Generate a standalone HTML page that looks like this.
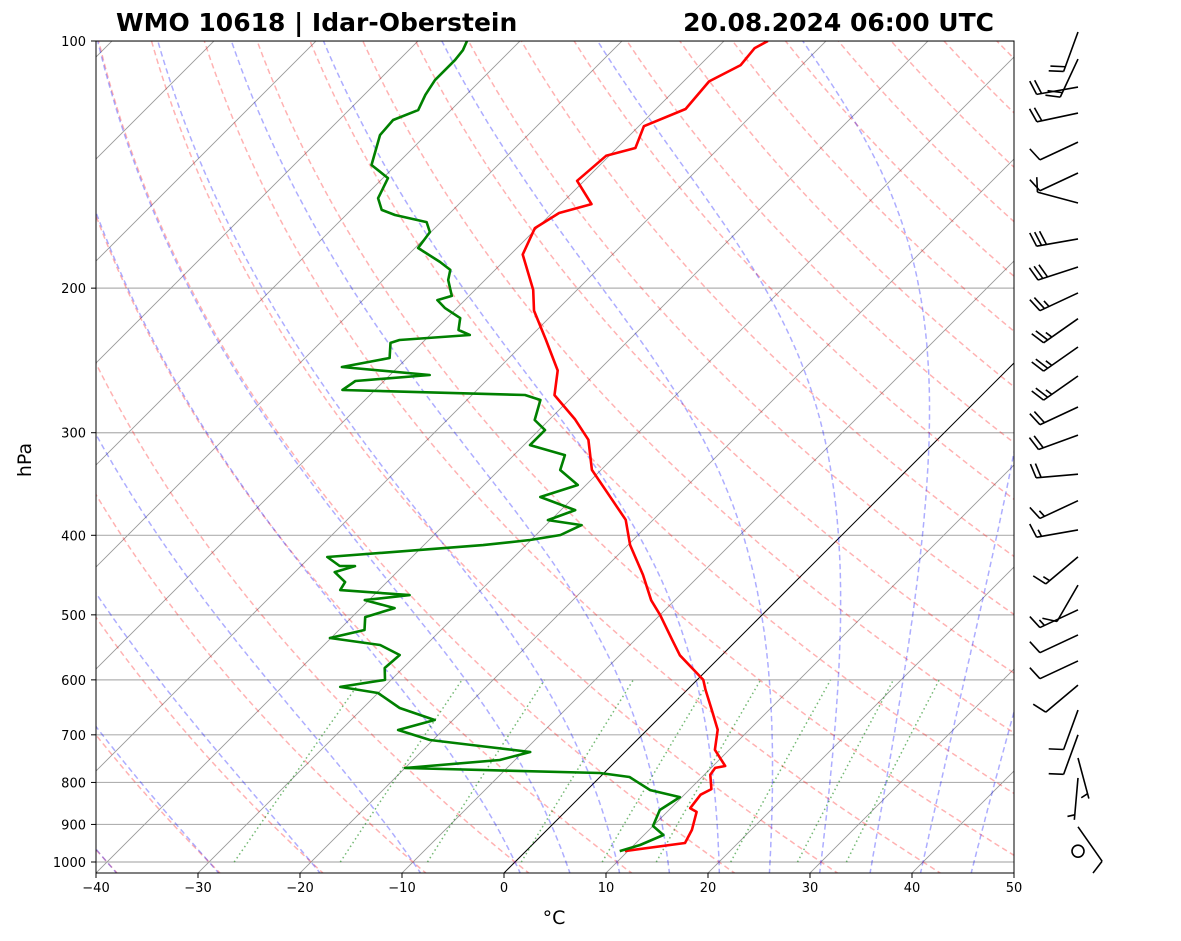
<!DOCTYPE html>
<html><head><meta charset="utf-8"><style>
body{margin:0;background:#fff;}
svg{display:block;font-family:"DejaVu Sans","Liberation Sans",sans-serif;}
</style></head><body>
<svg id="chart" width="1181" height="941" viewBox="0 0 1181 941" xmlns="http://www.w3.org/2000/svg">
<defs><clipPath id="clip"><rect x="96" y="41" width="918" height="832"/></clipPath></defs>
<rect width="1181" height="941" fill="#fff"/>
<g id="bg" clip-path="url(#clip)"></g>
<g id="prof" clip-path="url(#clip)"></g>
<rect x="96" y="41" width="918" height="832" fill="none" stroke="#000" stroke-width="1"/>
<g id="axes"></g>
<g id="barbs"></g>
<text x="116" y="31" font-size="25" font-weight="bold">WMO 10618 | Idar-Oberstein</text>
<text x="994" y="31" font-size="25" font-weight="bold" text-anchor="end">20.08.2024 06:00 UTC</text>
<text x="554" y="924" font-size="19" text-anchor="middle">°C</text>
<text x="31" y="460" font-size="19" text-anchor="middle" transform="rotate(-90 31 460)">hPa</text>
</svg>
<script>
const tempP=[970,948,914,869,860,828,815,783,768,764,730,690,653,617,600,560,537,500,480,447,411,383,362,333,306,289,270,252,231,213,201,182,169,162,158,148,138,135,127,121,112,107,102,100];
const tempT=[9.7,14.8,14.2,12.9,11.9,11.6,12.1,10.6,10.4,11.2,8.6,6.9,4.4,1.8,0.6,-4.1,-6.3,-10,-12.3,-15.6,-19.8,-22.7,-26,-30.9,-34.2,-37.5,-41.9,-44,-48.2,-52.2,-54.3,-58.8,-60.2,-59.3,-57,-60.7,-60.3,-58.2,-59.5,-57.1,-57.5,-56,-56.3,-55.7];
const dewP=[970,953.4,927,903.9,864.3,833.5,817.3,788,779.1,768.3,751.3,734.5,722.3,710.2,690.6,671.4,649.3,622.5,612,600.1,580.3,559.6,544.1,533.6,521.7,503.1,490.6,479.7,473,466.4,456.1,443.5,436.1,436,425.1,411.1,405.3,399.7,388.7,383.3,372.7,359.3,347.4,333.1,319.4,310.6,297.8,289.5,273.7,269.9,266.1,259.5,255.2,249.5,243.3,233.2,231.3,228.1,224.9,217.5,211.4,206.8,204.4,195.5,190,185.8,178.7,170.9,166.2,162.9,160.6,155.4,146.9,141.6,130.2,124.8,121.4,116.3,111.6,108.5,105.5,102.6,100];
const dewT=[9.2,10.6,11.9,10,9.1,9.8,6.2,2.9,-0.4,-20,-11.5,-9.3,-14.8,-20.3,-24.4,-21.8,-26.4,-30,-34.3,-30.6,-31.8,-31.6,-34.5,-40.1,-37.5,-38.7,-36.7,-40.4,-36.5,-43.8,-44.1,-46.1,-44.7,-46.2,-48.3,-34.2,-30.1,-27.6,-26.5,-30.3,-28.6,-33.3,-30.8,-34,-35,-39.4,-39.4,-41.4,-42.8,-44.8,-63.2,-62.8,-56.1,-65.5,-61.7,-63.1,-62.5,-56.1,-57.7,-58.7,-61.2,-62.7,-61.7,-63.6,-64.4,-66.2,-69.7,-70.1,-71.4,-75.2,-77,-78.5,-79.5,-82.4,-84.5,-84.7,-83.2,-84,-84.5,-84.5,-84.5,-84.7,-85.2];
const windP=[97.5,105.2,113.8,122.4,132.8,144.8,157.5,174.2,188.5,202.7,217.9,235.9,255.9,279.1,302,337,363,394,425,460,493,529,569,609,653,700,747,790,906,970];
const windDir=[200,205,260,258,245,245,285,260,252,245,235,235,235,245,250,265,245,260,230,210,245,245,245,230,200,200,165,185,145,0];
const windSpd=[20,20,20,20,10,10,10,30,30,25,25,25,25,20,20,20,15,15,15,10,15,10,10,10,10,10,5,5,10,0];
const xTicks=[-40,-30,-20,-10,0,10,20,30,40,50];
const pTicks=[100,200,300,400,500,600,700,800,900,1000];
const dryT0=[-40,-30,-20,-10,0,10,20,30,40,50,60,70,80,90,100,110,120,130,140,150,160,170,180,190];
const moistT0=[-50,-40,-30,-20,-10,0,5,10,15,20,25,30,35,40,45];
const mixW=[0.0004,0.001,0.002,0.004,0.007,0.01,0.016,0.024,0.032];

const NS='http://www.w3.org/2000/svg';
const X0=96,YB=873,TOP=41,SC=10.2;
function yP(p){return TOP+821*Math.log10(p/100);}
function xT(T,p){const y=yP(p);return X0+(T+40)*SC+(YB-y);}
function mk(tag,attrs,parent){const e=document.createElementNS(NS,tag);for(const k in attrs)e.setAttribute(k,attrs[k]);parent.appendChild(e);return e;}
function pathFrom(ps,ts){let d='';for(let i=0;i<ps.length;i++){d+=(i?'L':'M')+xT(ts[i],ps[i]).toFixed(1)+' '+yP(ps[i]).toFixed(1);}return d;}
const bg=document.getElementById('bg'),prof=document.getElementById('prof'),axes=document.getElementById('axes'),barbs=document.getElementById('barbs');
const PMAX=1035;
const plev=[];for(let p=PMAX;p>=99;p-=5)plev.push(p);
pTicks.forEach(p=>{const l=mk('line',{x1:96,x2:1014,y1:yP(p),y2:yP(p),stroke:'#b0b0b0','stroke-width':1.2},bg);

});
for(let T=-140;T<=50;T+=10){const l=mk('path',{d:pathFrom([PMAX,99],[T,T]),stroke:T===0?'#000':'#999',fill:'none','stroke-width':T===0?1:0.9},bg);

}
dryT0.forEach(t0=>{const th=t0+273.15;const ts=plev.map(p=>th*Math.pow(p/1000,0.2857)-273.15);
const l=mk('path',{d:pathFrom(plev,ts),stroke:'rgba(255,0,0,0.3)',fill:'none','stroke-width':1.5,'stroke-dasharray':'5.5 3.5'},bg);

});
function es(Tc){return 6.112*Math.exp(17.67*Tc/(Tc+243.5));}
function dTdp(T,p){const Rd=287.04,Lv=2.501e6,Cp=1005.7,eps=0.622;const e=es(T-273.15);const rs=eps*e/(p-e);
return (1/p)*(Rd*T+Lv*rs)/(Cp+Lv*Lv*rs*eps/(Rd*T*T));}
function integ(T,p0,p1,n){const h=(p1-p0)/n;const ps=[p0],ts=[T];let p=p0;for(let i=0;i<n;i++){const k1=dTdp(T,p),k2=dTdp(T+h/2*k1,p+h/2),k3=dTdp(T+h/2*k2,p+h/2),k4=dTdp(T+h*k3,p+h);T+=h/6*(k1+2*k2+2*k3+k4);p+=h;ps.push(p);ts.push(T-273.15);}ts[0]-=273.15;return [ps,ts];}
moistT0.forEach(t0=>{const up=integ(t0+273.15,1000,99,200);const dn=integ(t0+273.15,1000,PMAX,10);
const ps=dn[0].slice().reverse().concat(up[0].slice(1));const ts=dn[1].slice().reverse().concat(up[1].slice(1));
const l=mk('path',{d:pathFrom(ps,ts),stroke:'rgba(0,0,255,0.32)',fill:'none','stroke-width':1.5,'stroke-dasharray':'5.5 3.5'},bg);

});
mixW.forEach(w=>{const ps=[1000,900,800,700,600];const ts=ps.map(p=>{const e=p*w/(0.622+w);const a=Math.log(e/6.112);return 243.5*a/(17.67-a);});
const l=mk('path',{d:pathFrom(ps,ts),stroke:'rgba(0,128,0,0.55)',fill:'none','stroke-width':1.5,'stroke-dasharray':'1.5 3'},bg);

});
const tl=mk('path',{d:pathFrom(tempP,tempT),stroke:'#f00',fill:'none','stroke-width':2.6,'stroke-linejoin':'round'},prof);


const dl=mk('path',{d:pathFrom(dewP,dewT),stroke:'#008000',fill:'none','stroke-width':2.6,'stroke-linejoin':'round'},prof);


xTicks.forEach(T=>{const x=X0+(T+40)*SC;mk('line',{x1:x,x2:x,y1:873,y2:878,stroke:'#000'},axes);
const t=mk('text',{x:x,y:892,'font-size':13,'text-anchor':'middle'},axes);t.textContent=(T<0?'\u2212'+(-T):T);

});
pTicks.forEach(p=>{const y=yP(p);mk('line',{x1:91,x2:96,y1:y,y2:y,stroke:'#000'},axes);
const t=mk('text',{x:86,y:y+5,'font-size':13,'text-anchor':'end'},axes);t.textContent=p;

});
const BX=1078,L=42,BL=15;
windP.forEach((p,i)=>{const y=yP(p);const g=mk('g',{stroke:'#000','stroke-width':1.6,fill:'none'},barbs);


const s=windSpd[i];
if(s===0){mk('circle',{cx:BX,cy:y,r:6},g);return;}
const d=windDir[i]*Math.PI/180;const ux=Math.sin(d),uy=-Math.cos(d);const px=-uy,py=ux;
const ex=BX+ux*L,ey=y+uy*L;mk('line',{x1:BX,y1:y,x2:ex,y2:ey},g);
let n=Math.floor(s/10),h=(s%10)>=5?1:0;let off=0;
for(let k=0;k<n;k++){const sx=ex-ux*off,sy=ey-uy*off;mk('line',{x1:sx,y1:sy,x2:sx+px*BL*0.95+ux*BL*0.3,y2:sy+py*BL*0.95+uy*BL*0.3},g);off+=5;}
if(h){if(n===0)off=5;const sx=ex-ux*off,sy=ey-uy*off;mk('line',{x1:sx,y1:sy,x2:sx+(px*0.95+ux*0.3)*BL/2,y2:sy+(py*0.95+uy*0.3)*BL/2},g);}
});
</script>
</body></html>
